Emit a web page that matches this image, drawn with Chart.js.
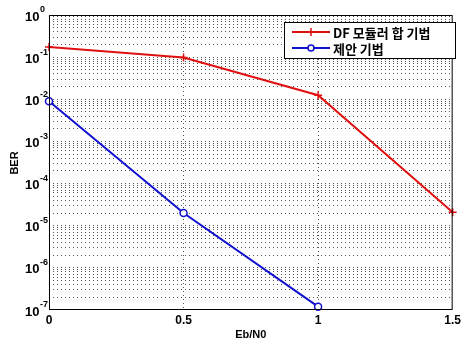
<!DOCTYPE html>
<html>
<head>
<meta charset="utf-8">
<script src="https://cdn.jsdelivr.net/npm/chart.js@4"></script>
<style>
  html, body { margin: 0; padding: 0; background: #fff; }
  canvas { display: block; }
</style>
</head>
<body>
<canvas id="c" width="464" height="343"></canvas>
<script>
// Eb/N0 값
const ebn0 = [0, 0.5, 1, 1.5];
const dfSeries = [0.175, 0.098, 0.0125, 2.1e-5];
const proposedSeries = [0.009, 2.0e-5, 1.2e-7];
const seriesNames = ['DF 모듈러 합 기법', '제안 기법'];
const xTicks = [0, 0.5, 1, 1.5];
const yDecades = [-7, -6, -5, -4, -3, -2, -1, 0];

const isDecade = v => Math.abs(Math.log10(v) - Math.round(Math.log10(v))) < 1e-6;
const boldFont = '"Liberation Sans", Arial, sans-serif';

const RED = '#e01010';
const BLUE = '#1010d0';

// 축 테두리, y축 라벨(10^k), 축 제목, 범례
const decorPlugin = {
    id: 'decor',
    afterDraw(chart) {
        const ctx = chart.ctx;
        const a = chart.chartArea;
        const ys = chart.scales.y;
        ctx.save();
        ctx.strokeStyle = '#000';
        ctx.lineWidth = 1;
        ctx.strokeRect(a.left + 0.5, a.top + 0.5, a.right - a.left - 1, a.bottom - a.top - 1);

        // 10^k 라벨
        ctx.fillStyle = '#000';
        ctx.textBaseline = 'middle';
        yDecades.forEach(k => {
            const py = ys.getPixelForValue(Math.pow(10, k));
            ctx.font = 'bold 13px ' + boldFont;
            ctx.textAlign = 'left';
            ctx.fillText('10', 25, py + 2);
            ctx.font = 'bold 9px ' + boldFont;
            ctx.fillText(String(k), 40, py - 5);
        });

        // 축 제목
        ctx.font = 'bold 11px ' + boldFont;
        ctx.textAlign = 'center';
        ctx.fillText('Eb/N0', (a.left + a.right) / 2, 335);
        ctx.save();
        ctx.translate(15, 163);
        ctx.rotate(-Math.PI / 2);
        ctx.fillText('BER', 0, 0);
        ctx.restore();

        // 범례 상자
        const bx = 284, by = 22, bw = 171, bh = 36;
        ctx.fillStyle = '#fff';
        ctx.fillRect(bx, by, bw, bh);
        ctx.strokeStyle = '#000';
        ctx.strokeRect(bx + 0.5, by + 0.5, bw, bh);

        const rows = [
            { y: 32, color: RED, style: 'cross', label: seriesNames[0] },
            { y: 48, color: BLUE, style: 'circle', label: seriesNames[1] }
        ];
        rows.forEach(r => {
            ctx.strokeStyle = r.color;
            ctx.lineWidth = 2;
            ctx.beginPath();
            ctx.moveTo(292, r.y);
            ctx.lineTo(330, r.y);
            ctx.stroke();
            ctx.lineWidth = 1.5;
            if (r.style === 'cross') {
                ctx.beginPath();
                ctx.moveTo(311, r.y - 4);
                ctx.lineTo(311, r.y + 4);
                ctx.stroke();
            } else {
                ctx.fillStyle = '#fff';
                ctx.beginPath();
                ctx.arc(311, r.y, 3, 0, Math.PI * 2);
                ctx.fill();
                ctx.stroke();
            }
            ctx.fillStyle = '#000';
            ctx.font = 'bold 13px "Noto Sans CJK KR", sans-serif';
            ctx.textBaseline = 'middle';
            ctx.textAlign = 'left';
            ctx.fillText(r.label, 333, r.y + 1);
        });
        ctx.restore();
    }
};

const yTickValues = [];
yDecades.forEach(k => {
    for (let m = 1; m <= 9; m++) {
        const v = m * Math.pow(10, k);
        if (v <= 1.0000001) yTickValues.push(v);
    }
});

new Chart(document.getElementById('c'), {
    type: 'line',
    data: {
        datasets: [
            {
                label: seriesNames[0],
                data: ebn0.map((x, i) => ({ x: x, y: dfSeries[i] })),
                borderColor: RED,
                backgroundColor: RED,
                borderWidth: 2,
                pointStyle: 'cross',
                pointRadius: 4,
                pointBorderWidth: 1.5,
                tension: 0
            },
            {
                label: seriesNames[1],
                data: proposedSeries.map((y, i) => ({ x: ebn0[i], y: y })),
                borderColor: BLUE,
                backgroundColor: '#ffffff',
                borderWidth: 2,
                pointStyle: 'circle',
                pointRadius: 3.5,
                pointBorderWidth: 1.5,
                tension: 0
            }
        ]
    },
    options: {
        responsive: false,
        animation: false,
        clip: false,
        layout: { padding: { top: 15, right: 4, left: 0, bottom: 0 } },
        plugins: {
            legend: { display: false },
            tooltip: { enabled: false }
        },
        scales: {
            x: {
                type: 'linear',
                min: 0,
                max: 1.5,
                afterBuildTicks: s => { s.ticks = xTicks.map(v => ({ value: v })); },
                afterFit: s => { s.height = 33; },
                ticks: {
                    color: '#000',
                    font: { family: boldFont, size: 12, weight: 'bold' },
                    padding: 3,
                    maxRotation: 0,
                    callback: v => String(v)
                },
                grid: {
                    color: ctx => (ctx.tick && (ctx.tick.value === 0 || ctx.tick.value === 1.5)) ? 'rgba(0,0,0,0)' : '#555',
                    drawTicks: false
                },
                border: { display: false, dash: [1, 3] }
            },
            y: {
                type: 'logarithmic',
                min: 1e-7,
                max: 1,
                afterBuildTicks: s => { s.ticks = yTickValues.map(v => ({ value: v })); },
                afterFit: s => { s.width = 49; },
                ticks: {
                    autoSkip: false,
                    callback: () => ''
                },
                grid: {
                    color: ctx => (ctx.tick && (ctx.tick.value === 1 || ctx.tick.value < 1.01e-7)) ? 'rgba(0,0,0,0)' : '#555',
                    drawTicks: false
                },
                border: { display: false, dash: [1, 3] }
            }
        }
    },
    plugins: [decorPlugin]
});
</script>
</body>
</html>
